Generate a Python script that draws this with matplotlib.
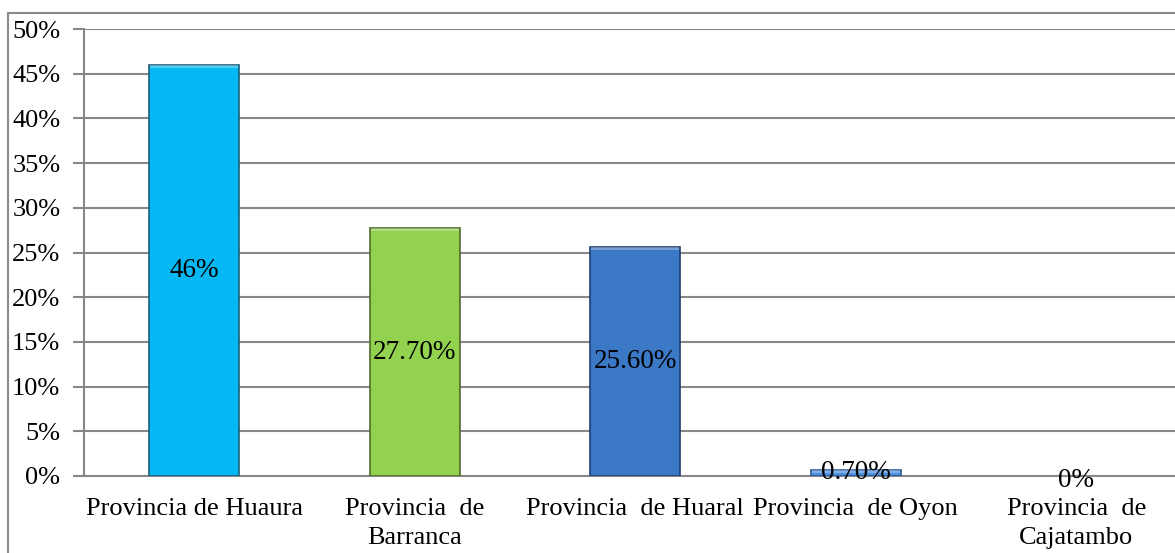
import numpy as np
import matplotlib
matplotlib.use('Agg')
import matplotlib.pyplot as plt
from matplotlib.lines import Line2D

plt.rcParams['font.family'] = ['Liberation Serif', 'DejaVu Serif']

provincias = ['Provincia de Huaura', 'Provincia  de\nBarranca', 'Provincia  de Huaral',
              'Provincia  de Oyon', 'Provincia  de\nCajatambo']
valores = [46, 27.7, 25.6, 0.7, 0]
etiquetas = ['46%', '27.70%', '25.60%', '0.70%', '0%']
colores = ['#05B8F4', '#92D24F', '#3B78C6', '#4C8FDE', '#4C8FDE']
bordes = ['#1E5E7E', '#4F6A28', '#1F3F6F', '#2A5A9A', 'none']

fig = plt.figure(figsize=(11.75, 5.53), dpi=100)
ax = fig.add_axes([84/1175, 77/553, 1102.5/1175, 447/553])

x = np.arange(len(valores))
bars = ax.bar(x, valores, width=0.41, color=colores, edgecolor=bordes, linewidth=1.2, zorder=3)

# light bevel at the top of each bar
for b in bars:
    if b.get_height() > 0:
        h = min(0.35, b.get_height())
        ax.bar(b.get_x() + b.get_width()/2, h, bottom=b.get_height() - h, width=b.get_width()*0.97,
               color='white', alpha=0.3, linewidth=0, zorder=4)

for xi, v, t in zip(x, valores, etiquetas):
    yy = v/2 if v > 0 else -0.5
    ax.text(xi, yy, t, ha='center', va='center', fontsize=19.5, zorder=5)

ax.set_xlim(-0.5, len(valores) - 0.5)
ax.set_ylim(0, 50)
ax.set_yticks(np.arange(0, 51, 5))
ax.yaxis.set_major_formatter(plt.FuncFormatter(lambda v, p: f'{int(v)}%'))
ax.tick_params(axis='y', length=8, width=1.5, color='#888888', pad=9, labelsize=19)
ax.set_xticks(x)
ax.set_xticklabels(provincias, linespacing=1.4)
ax.tick_params(axis='x', length=0, pad=16, labelsize=19)

ax.grid(axis='y', color='#888888', linewidth=1.5, zorder=0)
ax.set_axisbelow(True)
for s in ['top', 'right']:
    ax.spines[s].set_visible(False)
ax.spines['left'].set_color('#888888')
ax.spines['left'].set_linewidth(1.5)
ax.spines['bottom'].set_color('#888888')
ax.spines['bottom'].set_linewidth(1.5)

# outer chart border
fig.add_artist(Line2D([8/1175, 1.0], [1 - 13/553, 1 - 13/553], color='#8a8a8a', linewidth=1.5))
fig.add_artist(Line2D([8/1175, 8/1175], [0, 1 - 13/553], color='#8a8a8a', linewidth=1.5))

fig.savefig('out.png', dpi=100)
